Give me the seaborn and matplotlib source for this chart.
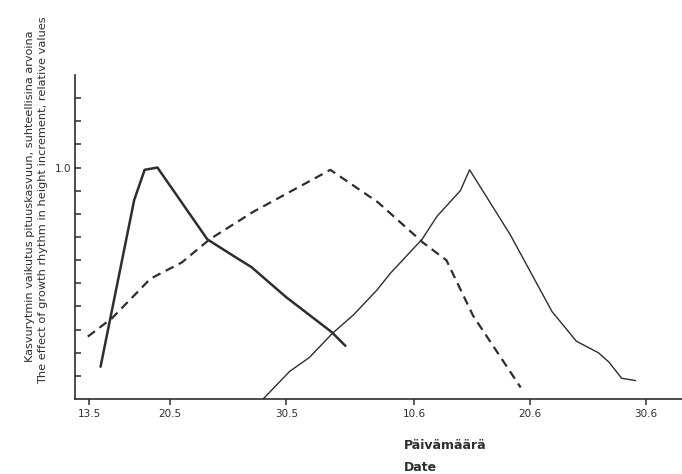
# Growth rhythm curves, relative height increment by date
import matplotlib
matplotlib.use("Agg")
import matplotlib.pyplot as plt
import numpy as np
import pandas as pd
import seaborn as sns


# ----------------------------------------------------------------------
# data  (x = days after 13.5.)
# ----------------------------------------------------------------------
bold_days = [1.0, 3.9, 4.8, 5.9, 10.2, 12.4, 14.0, 17.0, 20.9, 22.1]
bold_vals = [0.14, 0.86, 0.99, 1.0, 0.69, 0.62, 0.57, 0.44, 0.29, 0.23]

dash_days = [-0.1, 2.0, 5.3, 8.0, 10.4, 14.2, 15.3, 20.8, 24.9, 28.8, 30.8, 33.1, 37.2]
dash_vals = [0.27, 0.35, 0.52, 0.59, 0.69, 0.81, 0.84, 0.99, 0.85, 0.675, 0.60, 0.36, 0.05]

thin_days = [15.0, 17.3, 19.0, 21.0, 22.8, 24.8, 26.0, 28.7, 30.0, 32.0, 32.8,
             36.3, 39.9, 42.0, 43.9, 44.8, 45.9, 47.1]
thin_vals = [0.0, 0.12, 0.18, 0.285, 0.364, 0.47, 0.545, 0.69, 0.79, 0.90, 0.99,
             0.71, 0.378, 0.25, 0.20, 0.16, 0.09, 0.08]

tick_days = [0, 7, 17, 28, 38, 48]
tick_labels = ["13.5", "20.5", "30.5", "10.6", "20.6", "30.6"]

ink = "#2e2e2e"

sns.set_style("ticks")
plt.rcParams["font.family"] = ["DejaVu Sans"]

fig = plt.figure(figsize=(6.82, 4.74), dpi=100)
ax = fig.add_axes([0.110, 0.158, 0.890, 0.684])

bold = pd.DataFrame({"day": bold_days, "value": bold_vals})
dash = pd.DataFrame({"day": dash_days, "value": dash_vals})
thin = pd.DataFrame({"day": thin_days, "value": thin_vals})

sns.lineplot(data=bold, x="day", y="value", ax=ax, color=ink, lw=1.8)
sns.lineplot(data=dash, x="day", y="value", ax=ax, color=ink, lw=1.6,
             linestyle=(0, (4, 2.6)))
sns.lineplot(data=thin, x="day", y="value", ax=ax, color=ink, lw=1.0)

ax.set_xlim(-1.2, 51.1)
ax.set_ylim(0, 1.4)
sns.despine(ax=ax)
for side in ["left", "bottom"]:
    ax.spines[side].set_color(ink)
    ax.spines[side].set_linewidth(1.2)

ax.set_xticks(tick_days)
ax.set_xticklabels(tick_labels)
yt = np.round(np.arange(0.1, 1.35, 0.1), 1)
ax.set_yticks(yt)
ax.set_yticklabels(["1.0" if abs(v - 1.0) < 1e-6 else "" for v in yt])
ax.tick_params(axis="x", direction="out", length=4, width=1.1, colors=ink,
               labelsize=7.5, pad=3)
ax.tick_params(axis="y", direction="in", length=4, width=1.1, colors=ink,
               labelsize=7.5, pad=3)
ax.set_xlabel("")
ax.set_ylabel("")

fig.text(0.044, 0.585, "Kasvurytmin vaikutus pituuskasvuun, suhteellisina arvoina",
         rotation=90, ha="center", va="center", fontsize=8.1, color=ink)
fig.text(0.063, 0.578, "The effect of growth rhythm in height increment, relative values",
         rotation=90, ha="center", va="center", fontsize=8.2, color=ink)
fig.text(0.592, 0.061, "Päivämäärä", ha="left", va="center", fontsize=9,
         fontweight="bold", color=ink)
fig.text(0.592, 0.013, "Date", ha="left", va="center", fontsize=9,
         fontweight="bold", color=ink)

fig.savefig("out.png", dpi=100)
